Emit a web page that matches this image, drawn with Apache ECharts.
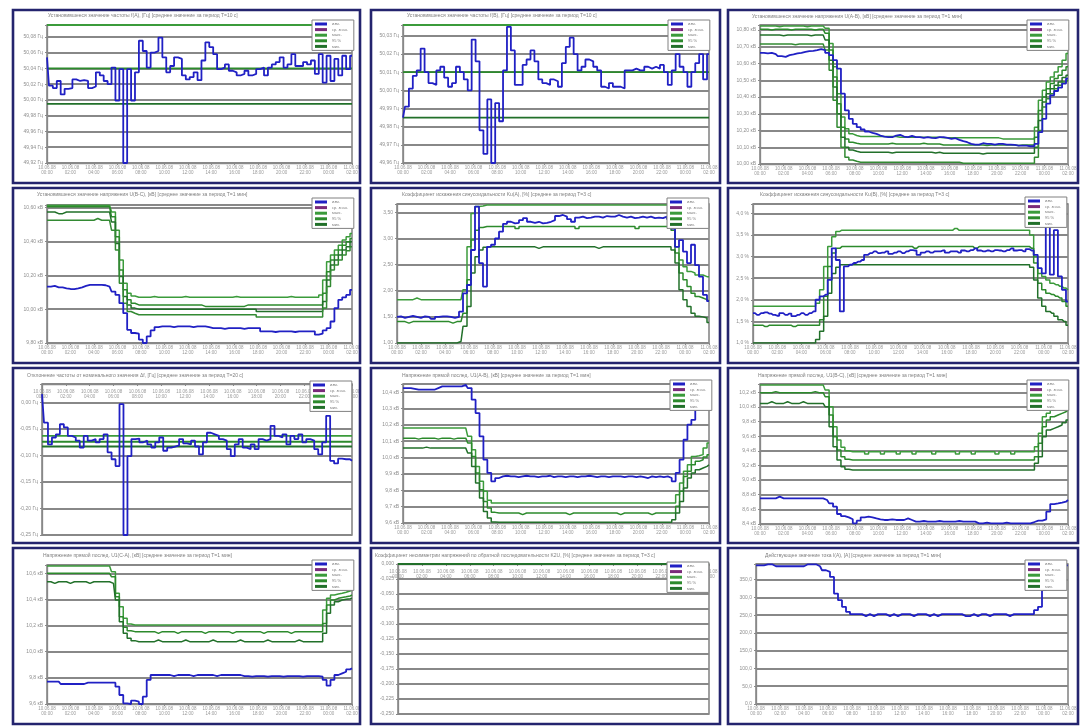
<!DOCTYPE html>
<html>
<head>
<meta charset="utf-8">
<script src="https://cdn.jsdelivr.net/npm/echarts@6/dist/echarts.min.js"></script>
<style>
  html, body { margin: 0; padding: 0; background: #ffffff; }
  #chart { width: 1082px; height: 728px; }
</style>
</head>
<body>
<div id="chart"></div>
<script>
// ---- time axis (20-minute averaging intervals) ----
const CATEGORIES = [
  '10.06.08 00:00','10.06.08 00:20','10.06.08 00:40','10.06.08 01:00','10.06.08 01:20','10.06.08 01:40','10.06.08 02:00','10.06.08 02:20','10.06.08 02:40','10.06.08 03:00',
  '10.06.08 03:20','10.06.08 03:40','10.06.08 04:00','10.06.08 04:20','10.06.08 04:40','10.06.08 05:00','10.06.08 05:20','10.06.08 05:40','10.06.08 06:00','10.06.08 06:20',
  '10.06.08 06:40','10.06.08 07:00','10.06.08 07:20','10.06.08 07:40','10.06.08 08:00','10.06.08 08:20','10.06.08 08:40','10.06.08 09:00','10.06.08 09:20','10.06.08 09:40',
  '10.06.08 10:00','10.06.08 10:20','10.06.08 10:40','10.06.08 11:00','10.06.08 11:20','10.06.08 11:40','10.06.08 12:00','10.06.08 12:20','10.06.08 12:40','10.06.08 13:00',
  '10.06.08 13:20','10.06.08 13:40','10.06.08 14:00','10.06.08 14:20','10.06.08 14:40','10.06.08 15:00','10.06.08 15:20','10.06.08 15:40','10.06.08 16:00','10.06.08 16:20',
  '10.06.08 16:40','10.06.08 17:00','10.06.08 17:20','10.06.08 17:40','10.06.08 18:00','10.06.08 18:20','10.06.08 18:40','10.06.08 19:00','10.06.08 19:20','10.06.08 19:40',
  '10.06.08 20:00','10.06.08 20:20','10.06.08 20:40','10.06.08 21:00','10.06.08 21:20','10.06.08 21:40','10.06.08 22:00','10.06.08 22:20','10.06.08 22:40','10.06.08 23:00',
  '10.06.08 23:20','10.06.08 23:40','11.06.08 00:00','11.06.08 00:20','11.06.08 00:40','11.06.08 01:00','11.06.08 01:20','11.06.08 01:40','11.06.08 02:00'
];

const LEGEND_NAMES = ['изм.', 'ср. знач.', 'макс.', '95 %', 'мин.'];

const TITLES = [
  'Установившееся значение частоты f(A), [Гц] [среднее значение за период Т=10 с]',
  'Установившееся значение частоты f(B), [Гц] [среднее значение за период Т=10 с]',
  'Установившееся значение напряжения U(A-B), [кВ] [среднее значение за период Т=1 мин]',
  'Установившееся значение напряжения U(B-C), [кВ] [среднее значение за период Т=1 мин]',
  'Коэффициент искажения синусоидальности Ku(A), [%] [среднее за период Т=3 с]',
  'Коэффициент искажения синусоидальности Ku(B), [%] [среднее за период Т=3 с]',
  'Отклонение частоты от номинального значения Δf, [Гц] [среднее значение за период Т=20 с]',
  'Напряжение прямой послед. U1(A-B), [кВ] [среднее значение за период Т=1 мин]',
  'Напряжение прямой послед. U1(B-C), [кВ] [среднее значение за период Т=1 мин]',
  'Напряжение прямой послед. U1(C-A), [кВ] [среднее значение за период Т=1 мин]',
  'Коэффициент несимметрии напряжений по обратной последовательности K2U, [%] [среднее значение за период Т=3 с]',
  'Действующее значение тока I(A), [А] [среднее значение за период Т=1 мин]'
];

// ---- y scales: min, max, tick step, decimals, unit ----
const Y_MIN   = [49.92, 49.96, 10.0, 9.8, 1.0, 1.0, -0.25, 9.6, 8.4, 9.6, -0.25, 0];
const Y_MAX   = [50.095, 50.036, 10.83, 10.615, 3.66, 4.215, 0.035, 10.45, 10.314, 10.664, 0, 394];
const Y_STEP  = [0.02, 0.01, 0.1, 0.2, 0.5, 0.5, 0.05, 0.1, 0.2, 0.2, 0.025, 50];
const Y_DIGITS = [2, 2, 2, 2, 2, 1, 2, 1, 1, 1, 3, 1];
const Y_UNITS = [' Гц', ' Гц', ' кВ', ' кВ', '', ' %', ' Гц', ' кВ', ' кВ', ' кВ', '', ''];

// ---- frequency, phase A ----
const F_A = [
  50.054,50.018,50.015,50.024,50.007,50.014,50.015,50.026,50.024,50.025,
  50.024,50.015,50.017,50.035,50.031,50.024,50.020,50.041,49.999,50.039,
  49.920,50.039,49.999,50.035,50.075,50.062,50.041,50.060,50.062,50.079,
  50.054,50.035,50.043,50.054,50.052,50.031,50.026,50.029,50.035,50.025,
  50.050,50.073,50.067,50.058,50.039,50.041,50.045,50.037,50.035,50.031,
  50.033,50.037,50.031,50.033,50.039,50.041,50.031,50.041,50.045,50.048,
  50.054,50.041,50.045,50.058,50.043,50.043,50.048,50.045,50.050,50.033,
  50.058,50.022,50.056,50.024,50.052,50.031,50.056,50.039,50.056
];
const F_A_LIMITS = [50.095, 50.040, 49.995];

// ---- frequency, phase B ----
const F_B = [
  49.985,49.991,50.001,50.008,50.011,50.023,50.010,50.004,50.003,50.011,
  50.013,50.007,50.002,50.004,50.013,50.010,50.006,50.000,50.028,50.016,
  49.978,49.965,49.995,49.960,49.993,49.983,50.011,50.035,50.022,50.003,
  50.003,50.014,50.017,50.022,50.016,50.006,50.004,50.003,50.006,50.005,
  50.002,50.015,50.024,50.029,50.020,50.011,50.013,50.017,50.016,50.013,
  50.011,50.002,50.001,50.004,50.002,50.002,50.001,50.011,50.011,50.012,
  50.011,50.011,50.013,50.012,50.013,50.012,50.014,50.010,50.003,50.011,
  50.020,50.013,50.010,50.002,50.010,50.015,50.020,50.006,50.020
];
const F_B_LIMITS = [50.036, 50.010, 49.985];

// ---- voltage U(A-B) ----
const UAB_MEAS = [
  10.664,10.664,10.660,10.664,10.656,10.644,10.640,10.650,10.654,10.660,
  10.664,10.670,10.674,10.676,10.680,10.686,10.680,10.664,10.650,10.620,
  10.570,10.420,10.320,10.270,10.240,10.220,10.206,10.194,10.186,10.180,
  10.170,10.164,10.160,10.160,10.170,10.174,10.164,10.160,10.168,10.160,
  10.160,10.156,10.160,10.156,10.154,10.160,10.160,10.156,10.150,10.154,
  10.144,10.136,10.130,10.120,10.116,10.116,10.124,10.120,10.120,10.116,
  10.120,10.120,10.116,10.116,10.114,10.110,10.110,10.110,10.106,10.106,
  10.120,10.190,10.270,10.360,10.410,10.436,10.456,10.480,10.510
];
const UAB_MAX = [
  10.824,10.824,10.824,10.824,10.824,10.820,10.824,10.824,10.824,10.824,
  10.824,10.824,10.820,10.824,10.824,10.824,10.824,10.810,10.720,10.580,
  10.420,10.280,10.210,10.180,10.170,10.164,10.164,10.164,10.164,10.164,
  10.164,10.164,10.164,10.164,10.164,10.160,10.160,10.160,10.160,10.160,
  10.160,10.160,10.160,10.160,10.160,10.160,10.156,10.156,10.156,10.156,
  10.156,10.156,10.156,10.156,10.156,10.156,10.156,10.156,10.156,10.156,
  10.156,10.150,10.150,10.150,10.150,10.150,10.150,10.150,10.150,10.150,
  10.220,10.380,10.440,10.490,10.520,10.550,10.580,10.620,10.660
];
const UAB_95 = [
  10.804,10.804,10.804,10.800,10.804,10.804,10.804,10.804,10.800,10.804,
  10.804,10.804,10.804,10.804,10.800,10.804,10.804,10.780,10.680,10.520,
  10.360,10.220,10.150,10.130,10.124,10.120,10.120,10.120,10.120,10.120,
  10.120,10.120,10.120,10.124,10.120,10.120,10.120,10.120,10.120,10.120,
  10.120,10.124,10.120,10.120,10.120,10.120,10.114,10.114,10.114,10.114,
  10.114,10.114,10.114,10.114,10.114,10.114,10.114,10.110,10.114,10.114,
  10.114,10.114,10.114,10.114,10.114,10.110,10.114,10.114,10.114,10.114,
  10.160,10.320,10.400,10.450,10.480,10.510,10.530,10.560,10.580
];
const UAB_MIN = [
  10.770,10.770,10.770,10.770,10.770,10.770,10.766,10.770,10.770,10.770,
  10.770,10.770,10.770,10.766,10.770,10.770,10.770,10.740,10.620,10.460,
  10.300,10.160,10.100,10.084,10.076,10.070,10.070,10.070,10.070,10.070,
  10.070,10.070,10.070,10.066,10.070,10.070,10.070,10.070,10.070,10.070,
  10.070,10.070,10.070,10.070,10.066,10.070,10.064,10.064,10.064,10.064,
  10.064,10.064,10.064,10.064,10.064,10.064,10.060,10.064,10.064,10.064,
  10.064,10.064,10.064,10.064,10.064,10.064,10.064,10.064,10.064,10.064,
  10.100,10.260,10.370,10.420,10.450,10.470,10.490,10.516,10.530
];
const UAB_5 = [
  10.716,10.716,10.716,10.716,10.716,10.716,10.716,10.716,10.716,10.712,
  10.716,10.716,10.716,10.716,10.716,10.716,10.716,10.680,10.560,10.380,
  10.220,10.100,10.040,10.024,10.016,10.010,10.010,10.010,10.010,10.010,
  10.010,10.010,10.010,10.010,10.010,10.010,10.010,10.010,10.010,10.010,
  10.010,10.010,10.010,10.010,10.010,10.010,10.010,10.010,10.010,10.010,
  10.010,10.004,10.004,10.004,10.004,10.004,10.004,10.004,10.004,10.004,
  10.004,10.004,10.004,10.004,10.004,10.004,10.004,10.004,10.004,10.004,
  10.040,10.200,10.340,10.390,10.420,10.450,10.470,10.490,10.500
];

// ---- voltage U(B-C) ----
const UBC_MEAS = [
  10.133,10.133,10.137,10.129,10.129,10.123,10.119,10.118,10.123,10.129,
  10.137,10.143,10.143,10.143,10.143,10.141,10.133,10.104,10.084,10.035,
  9.976,9.878,9.859,9.855,9.820,9.800,9.839,9.874,9.894,9.898,
  9.898,9.898,9.894,9.898,9.898,9.898,9.898,9.894,9.898,9.898,
  9.898,9.894,9.888,9.888,9.888,9.884,9.888,9.888,9.888,9.888,
  9.884,9.888,9.888,9.888,9.888,9.869,9.869,9.869,9.865,9.869,
  9.869,9.869,9.869,9.865,9.869,9.869,9.869,9.869,9.869,9.849,
  9.855,9.874,9.888,9.927,10.006,10.055,10.070,10.084,10.114
];
const UBC_MAX = [
  10.613,10.613,10.613,10.613,10.613,10.613,10.613,10.613,10.613,10.613,
  10.613,10.613,10.613,10.613,10.613,10.613,10.613,10.574,10.466,10.290,
  10.153,10.094,10.078,10.070,10.070,10.070,10.070,10.074,10.070,10.070,
  10.070,10.070,10.070,10.070,10.070,10.074,10.070,10.070,10.070,10.070,
  10.070,10.070,10.070,10.070,10.070,10.070,10.070,10.070,10.074,10.070,
  10.070,10.070,10.070,10.070,10.070,10.070,10.070,10.070,10.070,10.070,
  10.070,10.070,10.074,10.070,10.070,10.070,10.070,10.070,10.070,10.070,
  10.084,10.172,10.280,10.319,10.349,10.378,10.408,10.427,10.447
];
const UBC_95 = [
  10.604,10.604,10.604,10.604,10.604,10.604,10.604,10.604,10.604,10.604,
  10.604,10.604,10.604,10.604,10.604,10.604,10.604,10.545,10.427,10.231,
  10.114,10.055,10.035,10.025,10.025,10.025,10.025,10.025,10.025,10.025,
  10.025,10.025,10.025,10.025,10.025,10.025,10.025,10.025,10.025,10.025,
  10.016,10.016,10.016,10.016,10.016,10.016,10.016,10.016,10.016,10.016,
  10.016,10.025,10.025,10.025,10.025,10.025,10.025,10.025,10.025,10.025,
  10.025,10.025,10.025,10.025,10.025,10.025,10.025,10.025,10.025,10.025,
  10.025,10.094,10.221,10.290,10.319,10.349,10.378,10.398,10.417
];
const UBC_MIN = [
  10.574,10.574,10.574,10.564,10.564,10.574,10.574,10.574,10.574,10.574,
  10.574,10.574,10.574,10.574,10.574,10.574,10.574,10.515,10.388,10.192,
  10.074,10.025,10.006,10.000,10.000,10.000,10.000,10.000,10.000,10.000,
  10.000,10.000,10.000,10.000,10.000,10.000,10.000,10.000,10.000,10.000,
  10.000,10.000,10.000,10.000,10.000,10.000,10.000,10.000,10.000,10.000,
  10.000,10.000,10.000,10.000,9.986,9.986,9.986,9.986,9.986,9.986,
  9.986,9.986,9.986,9.986,9.986,9.986,9.986,9.986,9.986,9.986,
  9.986,10.045,10.172,10.261,10.290,10.319,10.349,10.368,10.398
];
const UBC_5 = [
  10.525,10.525,10.525,10.525,10.525,10.525,10.525,10.525,10.525,10.525,
  10.525,10.525,10.525,10.535,10.525,10.525,10.525,10.466,10.349,10.153,
  10.035,9.986,9.976,9.967,9.967,9.967,9.967,9.967,9.967,9.967,
  9.967,9.967,9.967,9.967,9.967,9.967,9.967,9.967,9.967,9.967,
  9.967,9.967,9.967,9.967,9.967,9.967,9.967,9.967,9.967,9.967,
  9.967,9.967,9.967,9.967,9.953,9.953,9.953,9.953,9.953,9.953,
  9.953,9.953,9.953,9.953,9.953,9.953,9.953,9.953,9.953,9.953,
  9.953,10.006,10.133,10.231,10.261,10.290,10.319,10.345,10.368
];

// ---- distortion factor Ku(A) ----
const KUA_MEAS = [
  1.50,1.51,1.48,1.50,1.52,1.50,1.48,1.51,1.50,1.46,
  1.50,1.51,1.51,1.50,1.48,1.50,1.60,1.95,2.11,2.78,
  3.61,2.53,2.08,2.84,2.88,3.00,3.13,3.28,3.32,3.29,
  3.30,3.35,3.39,3.32,3.30,3.32,3.29,3.30,3.32,3.35,
  3.43,3.45,3.42,3.37,3.32,3.40,3.42,3.39,3.40,3.42,
  3.42,3.40,3.43,3.42,3.42,3.45,3.42,3.40,3.42,3.39,
  3.40,3.42,3.40,3.42,3.39,3.40,3.39,3.42,3.37,3.19,
  2.84,2.97,2.75,2.53,2.88,2.49,2.27,1.92,1.80
];
const KUA_MAX = [
  1.83,1.83,1.83,1.83,1.83,1.86,1.83,1.83,1.83,1.83,
  1.83,1.83,1.83,1.83,1.83,1.83,1.83,2.02,2.84,3.48,
  3.61,3.62,3.64,3.64,3.64,3.64,3.64,3.64,3.64,3.64,
  3.64,3.64,3.64,3.64,3.64,3.64,3.64,3.64,3.64,3.64,
  3.64,3.64,3.64,3.64,3.64,3.64,3.64,3.64,3.64,3.64,
  3.64,3.64,3.64,3.64,3.64,3.64,3.64,3.64,3.64,3.64,
  3.64,3.64,3.64,3.64,3.64,3.64,3.64,3.64,3.64,3.35,
  2.84,2.59,2.46,2.37,2.34,2.30,2.30,2.27,2.27
];
const KUA_95 = [
  1.41,1.41,1.41,1.38,1.41,1.41,1.41,1.41,1.41,1.41,
  1.41,1.41,1.41,1.41,1.38,1.41,1.41,1.57,2.21,2.97,
  3.16,3.21,3.23,3.23,3.23,3.23,3.23,3.23,3.23,3.23,
  3.19,3.23,3.23,3.23,3.23,3.23,3.23,3.23,3.23,3.23,
  3.23,3.23,3.23,3.23,3.23,3.19,3.23,3.23,3.23,3.23,
  3.23,3.23,3.23,3.23,3.23,3.23,3.23,3.23,3.23,3.23,
  3.19,3.23,3.23,3.23,3.23,3.23,3.23,3.23,3.23,3.16,
  2.72,2.34,2.21,2.08,1.95,1.89,1.86,1.83,1.80
];
const KUA_MIN = [
  1.00,1.00,1.00,1.00,1.00,1.00,1.00,1.00,1.00,1.00,
  1.00,1.00,1.00,1.00,1.00,1.00,1.03,1.32,1.70,2.34,
  2.65,2.78,2.83,2.84,2.84,2.84,2.84,2.84,2.84,2.84,
  2.84,2.84,2.84,2.84,2.84,2.81,2.84,2.84,2.84,2.84,
  2.84,2.84,2.84,2.84,2.84,2.84,2.84,2.84,2.84,2.84,
  2.81,2.84,2.84,2.84,2.84,2.84,2.84,2.84,2.84,2.84,
  2.84,2.84,2.84,2.84,2.84,2.84,2.84,2.84,2.84,2.78,
  2.53,2.02,1.83,1.70,1.57,1.51,1.50,1.48,1.39
];

// ---- distortion factor Ku(B) ----
const KUB_MEAS = [
  1.69,1.65,1.69,1.71,1.68,1.65,1.63,1.69,1.65,1.68,
  1.62,1.65,1.69,1.65,1.69,1.73,2.00,2.08,2.12,2.46,
  3.19,2.92,1.73,2.77,2.81,2.85,2.88,2.92,3.04,3.08,
  3.12,3.08,3.09,3.12,3.06,3.09,3.12,3.08,3.12,3.15,
  3.14,3.04,3.09,3.12,3.09,3.12,3.12,3.14,3.09,3.12,
  3.12,3.09,3.14,3.12,3.15,3.19,3.14,3.12,3.14,3.12,
  3.15,3.14,3.12,3.15,3.19,3.14,3.15,3.12,3.17,3.14,
  3.04,2.73,2.61,4.00,2.58,3.61,2.54,2.23,1.96
];
const KUB_MAX = [
  1.85,1.85,1.85,1.85,1.85,1.85,1.85,1.85,1.85,1.85,
  1.85,1.85,1.85,1.85,1.85,1.85,1.92,2.23,2.77,3.23,
  3.46,3.58,3.61,3.61,3.61,3.61,3.61,3.61,3.61,3.61,
  3.61,3.61,3.61,3.61,3.61,3.61,3.61,3.61,3.61,3.61,
  3.61,3.61,3.61,3.61,3.61,3.61,3.61,3.61,3.61,3.61,
  3.65,3.61,3.61,3.61,3.61,3.61,3.61,3.61,3.61,3.61,
  3.61,3.61,3.61,3.61,3.61,3.61,3.61,3.61,3.61,3.50,
  3.00,2.61,2.54,2.46,2.38,2.35,2.31,2.27,2.23
];
const KUB_95 = [
  1.41,1.41,1.41,1.38,1.41,1.41,1.41,1.41,1.41,1.41,
  1.38,1.41,1.41,1.41,1.41,1.41,1.41,1.54,2.08,2.77,
  3.08,3.19,3.23,3.23,3.23,3.23,3.23,3.23,3.23,3.23,
  3.23,3.23,3.23,3.23,3.23,3.23,3.23,3.23,3.23,3.23,
  3.19,3.23,3.23,3.23,3.23,3.23,3.23,3.23,3.23,3.23,
  3.23,3.23,3.23,3.23,3.23,3.19,3.23,3.23,3.23,3.23,
  3.23,3.23,3.23,3.23,3.23,3.23,3.23,3.23,3.23,3.19,
  2.85,2.38,2.23,2.15,2.12,2.08,2.04,1.96,1.85
];
const KUB_MIN = [
  1.00,1.00,1.00,1.00,1.00,1.00,1.00,1.00,1.00,1.00,
  1.00,1.00,1.00,1.00,1.00,1.00,1.08,1.27,1.62,2.15,
  2.61,2.75,2.81,2.81,2.81,2.81,2.81,2.81,2.81,2.81,
  2.81,2.81,2.81,2.81,2.81,2.81,2.81,2.81,2.81,2.81,
  2.81,2.81,2.81,2.81,2.81,2.81,2.81,2.81,2.81,2.81,
  2.81,2.81,2.81,2.81,2.81,2.81,2.81,2.81,2.81,2.81,
  2.81,2.81,2.81,2.81,2.81,2.81,2.81,2.81,2.81,2.75,
  2.46,2.04,1.85,1.73,1.69,1.62,1.54,1.50,1.41
];

// ---- frequency deviation ----
const DF_MEAS = [
  0.016,-0.038,-0.079,-0.066,-0.060,-0.041,-0.047,-0.063,-0.066,-0.072,
  -0.085,-0.063,-0.072,-0.069,-0.075,-0.069,-0.060,-0.094,-0.107,-0.120,
  -0.003,-0.250,-0.101,-0.069,-0.068,-0.075,-0.072,-0.079,-0.085,-0.075,
  -0.066,-0.091,-0.085,-0.083,-0.081,-0.069,-0.077,-0.079,-0.072,-0.083,
  -0.098,-0.075,-0.057,-0.060,-0.063,-0.069,-0.072,-0.088,-0.101,-0.079,
  -0.069,-0.085,-0.088,-0.079,-0.088,-0.069,-0.072,-0.069,-0.044,-0.063,
  -0.066,-0.060,-0.079,-0.063,-0.069,-0.060,-0.075,-0.069,-0.072,-0.088,
  -0.098,-0.075,-0.025,-0.110,-0.115,-0.106,-0.107,-0.107,-0.110
];
const DF_LIMITS = [-0.063, -0.074, -0.083];

// ---- positive-sequence voltage U1(A-B) ----
const U1AB_MEAS = [
  10.425,10.425,10.425,10.420,10.415,10.415,10.415,10.415,10.415,10.425,
  10.435,10.435,10.435,10.435,10.435,10.435,10.445,10.425,10.354,10.272,
  10.130,9.987,9.906,9.855,9.875,9.885,9.889,9.885,9.885,9.881,
  9.885,9.889,9.885,9.885,9.881,9.885,9.885,9.889,9.881,9.885,
  9.885,9.881,9.885,9.885,9.881,9.885,9.885,9.889,9.885,9.881,
  9.885,9.885,9.881,9.885,9.885,9.885,9.881,9.885,9.885,9.881,
  9.885,9.881,9.875,9.885,9.881,9.885,9.881,9.885,9.875,9.855,
  9.906,9.987,10.109,10.201,10.231,10.293,10.333,10.364,10.394
];
const U1AB_MAX = [
  10.181,10.181,10.181,10.181,10.181,10.181,10.181,10.181,10.181,10.181,
  10.181,10.181,10.181,10.181,10.181,10.181,10.181,10.130,10.048,9.946,
  9.855,9.794,9.739,9.722,9.722,9.722,9.722,9.722,9.722,9.722,
  9.722,9.722,9.722,9.722,9.722,9.722,9.722,9.722,9.722,9.722,
  9.722,9.722,9.722,9.722,9.722,9.722,9.722,9.722,9.722,9.722,
  9.722,9.722,9.722,9.722,9.722,9.722,9.722,9.722,9.722,9.722,
  9.722,9.722,9.722,9.722,9.722,9.722,9.722,9.722,9.722,9.722,
  9.773,9.844,9.916,9.956,10.007,10.011,10.018,10.058,10.089
];
const U1AB_95 = [
  10.119,10.119,10.119,10.119,10.113,10.119,10.119,10.119,10.119,10.113,
  10.119,10.119,10.119,10.113,10.119,10.119,10.119,10.089,10.007,9.906,
  9.804,9.732,9.692,9.665,9.661,9.661,9.661,9.661,9.661,9.661,
  9.651,9.661,9.661,9.661,9.661,9.661,9.661,9.661,9.661,9.661,
  9.661,9.661,9.651,9.661,9.661,9.661,9.661,9.661,9.661,9.661,
  9.661,9.661,9.661,9.661,9.661,9.651,9.661,9.661,9.661,9.661,
  9.661,9.661,9.661,9.651,9.661,9.661,9.661,9.661,9.661,9.661,
  9.702,9.794,9.885,9.916,9.956,9.977,9.987,10.003,10.018
];
const U1AB_MIN = [
  10.058,10.058,10.058,10.058,10.058,10.058,10.064,10.058,10.058,10.058,
  10.058,10.058,10.058,10.058,10.058,10.058,10.058,10.028,9.946,9.844,
  9.753,9.671,9.631,9.606,9.604,9.604,9.604,9.604,9.604,9.604,
  9.604,9.604,9.604,9.604,9.604,9.604,9.604,9.604,9.604,9.604,
  9.604,9.604,9.604,9.604,9.604,9.604,9.604,9.604,9.604,9.604,
  9.604,9.604,9.604,9.604,9.604,9.604,9.604,9.604,9.604,9.604,
  9.604,9.604,9.604,9.604,9.604,9.604,9.604,9.604,9.604,9.620,
  9.661,9.732,9.814,9.875,9.906,9.926,9.936,9.946,9.956
];

// ---- positive-sequence voltage U1(B-C) ----
const U1BC_MEAS = [
  8.751,8.751,8.751,8.751,8.751,8.774,8.751,8.751,8.751,8.751,
  8.751,8.751,8.751,8.751,8.751,8.751,8.751,8.728,8.682,8.637,
  8.537,8.509,8.491,8.464,8.409,8.446,8.491,8.500,8.491,8.477,
  8.464,8.455,8.455,8.464,8.455,8.455,8.455,8.477,8.455,8.432,
  8.432,8.441,8.432,8.432,8.432,8.441,8.432,8.432,8.432,8.432,
  8.441,8.432,8.432,8.432,8.432,8.409,8.409,8.418,8.409,8.409,
  8.409,8.409,8.418,8.409,8.409,8.409,8.409,8.409,8.409,8.427,
  8.446,8.446,8.464,8.569,8.673,8.682,8.692,8.705,8.728
];
const U1BC_MAX = [
  10.300,10.300,10.300,10.300,10.300,10.300,10.300,10.300,10.300,10.300,
  10.300,10.300,10.300,10.300,10.300,10.300,10.300,10.231,10.004,9.730,
  9.548,9.448,9.402,9.389,9.389,9.389,9.389,9.357,9.389,9.389,
  9.389,9.357,9.389,9.389,9.389,9.357,9.389,9.389,9.389,9.357,
  9.389,9.389,9.389,9.389,9.357,9.389,9.389,9.389,9.389,9.389,
  9.357,9.389,9.389,9.389,9.357,9.389,9.389,9.389,9.389,9.389,
  9.357,9.389,9.389,9.389,9.357,9.389,9.389,9.389,9.389,9.389,
  9.457,9.639,9.867,9.913,9.958,10.004,10.049,10.095,10.140
];
const U1BC_95 = [
  10.195,10.195,10.195,10.195,10.210,10.195,10.195,10.195,10.195,10.195,
  10.195,10.195,10.195,10.195,10.210,10.195,10.195,10.140,9.890,9.594,
  9.411,9.320,9.284,9.275,9.275,9.275,9.275,9.275,9.275,9.275,
  9.275,9.275,9.275,9.275,9.275,9.275,9.275,9.275,9.275,9.275,
  9.275,9.275,9.275,9.275,9.275,9.275,9.275,9.275,9.275,9.275,
  9.275,9.275,9.275,9.275,9.275,9.275,9.275,9.275,9.275,9.275,
  9.275,9.275,9.275,9.275,9.275,9.275,9.275,9.275,9.275,9.275,
  9.320,9.503,9.730,9.821,9.867,9.890,9.913,9.935,9.958
];
const U1BC_MIN = [
  10.049,10.049,10.049,10.072,10.049,10.049,10.049,10.072,10.049,10.049,
  10.049,10.072,10.049,10.049,10.049,10.049,10.049,10.004,9.730,9.457,
  9.275,9.184,9.147,9.138,9.138,9.138,9.138,9.138,9.138,9.138,
  9.138,9.138,9.138,9.138,9.138,9.138,9.138,9.138,9.138,9.138,
  9.138,9.138,9.138,9.138,9.138,9.138,9.138,9.138,9.138,9.138,
  9.138,9.138,9.138,9.138,9.138,9.138,9.138,9.138,9.138,9.138,
  9.138,9.138,9.138,9.138,9.138,9.138,9.138,9.138,9.138,9.138,
  9.229,9.320,9.594,9.685,9.708,9.730,9.753,9.785,9.821
];

// ---- positive-sequence voltage U1(C-A) ----
const U1CA_MEAS = [
  9.771,9.771,9.771,9.771,9.753,9.753,9.753,9.753,9.753,9.753,
  9.763,9.763,9.763,9.763,9.763,9.763,9.763,9.763,9.733,9.669,
  9.605,9.600,9.626,9.618,9.600,9.656,9.784,9.822,9.822,9.822,
  9.822,9.822,9.814,9.822,9.822,9.822,9.822,9.814,9.822,9.822,
  9.822,9.822,9.822,9.814,9.822,9.822,9.822,9.822,9.822,9.822,
  9.814,9.814,9.809,9.814,9.814,9.814,9.809,9.814,9.814,9.814,
  9.809,9.814,9.814,9.814,9.814,9.809,9.814,9.814,9.814,9.814,
  9.809,9.784,9.740,9.784,9.822,9.835,9.847,9.865,9.873
];
const U1CA_MAX = [
  10.656,10.656,10.656,10.656,10.656,10.656,10.656,10.656,10.656,10.656,
  10.656,10.656,10.656,10.656,10.656,10.656,10.656,10.613,10.447,10.345,
  10.256,10.212,10.205,10.205,10.205,10.205,10.205,10.205,10.205,10.205,
  10.205,10.205,10.205,10.205,10.205,10.205,10.205,10.205,10.205,10.205,
  10.205,10.205,10.205,10.205,10.205,10.205,10.205,10.205,10.205,10.205,
  10.205,10.205,10.205,10.205,10.205,10.205,10.205,10.205,10.205,10.205,
  10.205,10.205,10.205,10.205,10.205,10.205,10.205,10.205,10.205,10.205,
  10.205,10.319,10.409,10.434,10.442,10.447,10.455,10.465,10.472
];
const U1CA_95 = [
  10.600,10.600,10.600,10.600,10.600,10.600,10.600,10.600,10.600,10.600,
  10.600,10.600,10.600,10.600,10.600,10.600,10.600,10.574,10.421,10.268,
  10.187,10.161,10.154,10.154,10.154,10.154,10.154,10.154,10.141,10.154,
  10.154,10.154,10.154,10.141,10.154,10.154,10.154,10.154,10.154,10.154,
  10.141,10.154,10.154,10.154,10.154,10.154,10.154,10.141,10.154,10.154,
  10.154,10.154,10.154,10.154,10.154,10.141,10.154,10.154,10.154,10.154,
  10.154,10.154,10.141,10.154,10.154,10.154,10.154,10.154,10.154,10.154,
  10.154,10.217,10.358,10.396,10.409,10.416,10.421,10.427,10.434
];
const U1CA_MIN = [
  10.536,10.536,10.523,10.536,10.536,10.536,10.523,10.536,10.536,10.536,
  10.536,10.523,10.536,10.536,10.536,10.536,10.536,10.523,10.396,10.230,
  10.141,10.103,10.085,10.077,10.077,10.077,10.077,10.077,10.090,10.077,
  10.077,10.077,10.077,10.077,10.077,10.090,10.077,10.077,10.077,10.077,
  10.077,10.077,10.090,10.077,10.077,10.077,10.077,10.077,10.077,10.090,
  10.077,10.077,10.077,10.077,10.077,10.077,10.090,10.077,10.077,10.077,
  10.077,10.077,10.077,10.077,10.090,10.077,10.077,10.077,10.077,10.077,
  10.077,10.141,10.294,10.358,10.383,10.396,10.401,10.406,10.409
];

// ---- unbalance factor K2U (no measurements in the period) ----
const K2U_MEAS = [];
const K2U_LIMITS = [0, 0, 0];

// ---- current I(A) ----
const IA_MEAS = [
  390.4,390.4,390.4,393.2,393.2,387.6,387.6,387.6,387.6,387.6,
  387.6,387.6,387.6,393.2,393.2,393.2,387.6,376.4,371.7,357.7,
  310.9,292.1,273.4,259.4,252.8,252.8,252.8,247.2,252.8,247.2,
  252.8,252.8,252.8,247.2,252.8,247.2,252.8,252.8,252.8,247.2,
  252.8,252.8,252.8,247.2,252.8,247.2,252.8,252.8,252.8,252.8,
  252.8,252.8,247.2,247.2,252.8,247.2,252.8,252.8,247.2,252.8,
  252.8,252.8,252.8,247.2,252.8,252.8,252.8,252.8,252.8,252.8,
  264.0,273.4,320.2,357.7,375.0,385.0,388.0,390.0,390.0
];

// ---------------------------------------------------------------
// Layout of the 3 x 4 sheet (pixels)
const FONT = 'Liberation Sans, Arial, sans-serif';
const PANEL_COLS = [[13, 347], [371, 349], [728, 350]];
const PANEL_ROWS = [[10, 173], [188, 175], [368, 175], [548, 176]];
const PLOTS = [
  [47, 25, 305, 138], [403, 25, 306, 138], [760, 25, 308, 139],
  [47, 205, 305, 138], [397, 204, 312, 139], [753, 204, 315, 139],
  [42, 384, 310, 151], [403, 384, 306, 139], [760, 384, 308, 140],
  [47, 565, 305, 139], [398, 564, 311, 150], [756, 564, 312, 140]
];
const TITLE_POS = [
  [48, 13], [407, 13], [752, 14],
  [37, 192], [402, 192], [760, 192],
  [27, 373], [402, 373], [758, 373],
  [43, 553], [375, 553], [765, 553]
];
const LEGEND_POS = [
  [312, 20], [668, 20], [1027, 20],
  [312, 198], [667, 198], [1025, 197],
  [310, 381], [670, 380], [1027, 380],
  [312, 560], [667, 562], [1025, 560]
];
const AXIS_ON_TOP = [false, false, false, false, false, false, true, false, false, false, true, false];

const COLORS = {
  'изм.': '#2020c4',
  'ср. знач.': '#7a2a7a',
  'макс.': '#3b9b3b',
  '95 %': '#2c8a2c',
  'мин.': '#22702a',
  '5 %': '#338a33'
};

// Per-panel content: measured curves and constant limit lines
const PANELS = [
  { lines: [['изм.', F_A]], limits: F_A_LIMITS },
  { lines: [['изм.', F_B]], limits: F_B_LIMITS },
  { lines: [['макс.', UAB_MAX], ['95 %', UAB_95], ['мин.', UAB_MIN], ['5 %', UAB_5], ['изм.', UAB_MEAS]] },
  { lines: [['макс.', UBC_MAX], ['95 %', UBC_95], ['мин.', UBC_MIN], ['5 %', UBC_5], ['изм.', UBC_MEAS]] },
  { lines: [['макс.', KUA_MAX], ['95 %', KUA_95], ['мин.', KUA_MIN], ['изм.', KUA_MEAS]] },
  { lines: [['макс.', KUB_MAX], ['95 %', KUB_95], ['мин.', KUB_MIN], ['изм.', KUB_MEAS]] },
  { lines: [['изм.', DF_MEAS]], limits: DF_LIMITS },
  { lines: [['макс.', U1AB_MAX], ['95 %', U1AB_95], ['мин.', U1AB_MIN], ['изм.', U1AB_MEAS]] },
  { lines: [['макс.', U1BC_MAX], ['95 %', U1BC_95], ['мин.', U1BC_MIN], ['изм.', U1BC_MEAS]] },
  { lines: [['макс.', U1CA_MAX], ['95 %', U1CA_95], ['мин.', U1CA_MIN], ['изм.', U1CA_MEAS]] },
  { lines: [['изм.', K2U_MEAS]], limits: K2U_LIMITS },
  { lines: [['изм.', IA_MEAS]] }
];

const GRID_COLOR = '#888888';
const LABEL_COLOR = '#8e8e8e';

function yLabel(i) {
  return function (v) {
    const k = (v - Y_MIN[i]) / Y_STEP[i];
    if (Math.abs(k - Math.round(k)) > 1e-6) return '';
    return v.toFixed(Y_DIGITS[i]).replace('.', ',') + Y_UNITS[i];
  };
}

const grids = [], xAxes = [], yAxes = [], series = [], titles = [], legends = [], frames = [];

PANELS.forEach(function (p, i) {
  const col = PANEL_COLS[i % 3], row = PANEL_ROWS[Math.floor(i / 3)];
  frames.push({
    type: 'rect', silent: true, z: 100,
    shape: { x: col[0], y: row[0], width: col[1], height: row[1] },
    style: { fill: 'none', stroke: '#24246e', lineWidth: 2.6 }
  });

  const pl = PLOTS[i];
  grids.push({
    left: pl[0], top: pl[1], width: pl[2], height: pl[3],
    show: true, borderColor: GRID_COLOR, borderWidth: 1.6, backgroundColor: '#ffffff'
  });

  const top = AXIS_ON_TOP[i];
  xAxes.push({
    gridIndex: i, type: 'category', data: CATEGORIES, boundaryGap: false,
    position: top ? 'top' : 'bottom',
    axisLine: { show: true, onZero: false, lineStyle: { color: GRID_COLOR, width: 1.3 } },
    axisTick: { show: true, length: 2, interval: 5, inside: top, lineStyle: { color: GRID_COLOR } },
    axisLabel: {
      interval: 5, inside: top, margin: top ? 5 : 2,
      fontSize: 4.5, lineHeight: 5.5, color: '#9a9a9a', fontFamily: FONT,
      formatter: function (v) { return v.replace(' ', '\n'); }
    },
    splitLine: { show: false }
  });

  yAxes.push({
    gridIndex: i, type: 'value',
    min: Y_MIN[i], max: Y_MAX[i], interval: Y_STEP[i],
    axisLine: { show: true, lineStyle: { color: GRID_COLOR, width: 1.3 } },
    axisTick: { show: true, length: 2, lineStyle: { color: GRID_COLOR } },
    axisLabel: { fontSize: 5, color: LABEL_COLOR, margin: 4, fontFamily: FONT, formatter: yLabel(i) },
    splitLine: { show: true, lineStyle: { color: GRID_COLOR, width: 1.8 } }
  });

  titles.push({
    text: TITLES[i], left: TITLE_POS[i][0], top: TITLE_POS[i][1], padding: 0,
    textStyle: { fontSize: 5, color: '#808080', fontWeight: 'normal', fontFamily: FONT }
  });

  legends.push({
    orient: 'vertical', left: LEGEND_POS[i][0], top: LEGEND_POS[i][1],
    data: LEGEND_NAMES, selectedMode: false, icon: 'rect',
    itemWidth: 12, itemHeight: 3, itemGap: 1.6,
    padding: [2, 6, 2, 3],
    backgroundColor: '#ffffff', borderColor: '#808080', borderWidth: 1,
    textStyle: { fontSize: 4, color: '#808080', fontFamily: FONT },
    z: 20
  });

  // limit lines drawn across the full time span
  if (p.limits) {
    ['макс.', '95 %', 'мин.'].forEach(function (name, k) {
      series.push({
        type: 'line', name: name, xAxisIndex: i, yAxisIndex: i,
        data: [[0, p.limits[k]], [CATEGORIES.length - 1, p.limits[k]]],
        symbol: 'none', silent: true, z: 3,
        lineStyle: { color: COLORS[name], width: 1.8 },
        itemStyle: { color: COLORS[name] }
      });
    });
  }

  p.lines.forEach(function (ln) {
    const name = ln[0];
    const isMeas = name === 'изм.';
    series.push({
      type: 'line', name: name, xAxisIndex: i, yAxisIndex: i,
      data: ln[1], symbol: 'none', step: 'middle', silent: true,
      z: isMeas ? 5 : 3,
      lineStyle: { color: COLORS[name], width: isMeas ? 1.8 : 1.5 },
      itemStyle: { color: COLORS[name] }
    });
  });
});

// averaged-value entry of the legend (no samples in the period)
series.push({
  type: 'line', name: 'ср. знач.', xAxisIndex: 0, yAxisIndex: 0, data: [],
  symbol: 'none', lineStyle: { color: COLORS['ср. знач.'] }, itemStyle: { color: COLORS['ср. знач.'] }
});

const chart = echarts.init(document.getElementById('chart'), null, { renderer: 'canvas' });
chart.setOption({
  animation: false,
  backgroundColor: '#ffffff',
  title: titles,
  legend: legends,
  grid: grids,
  xAxis: xAxes,
  yAxis: yAxes,
  series: series,
  graphic: { elements: frames }
});
</script>
</body>
</html>
